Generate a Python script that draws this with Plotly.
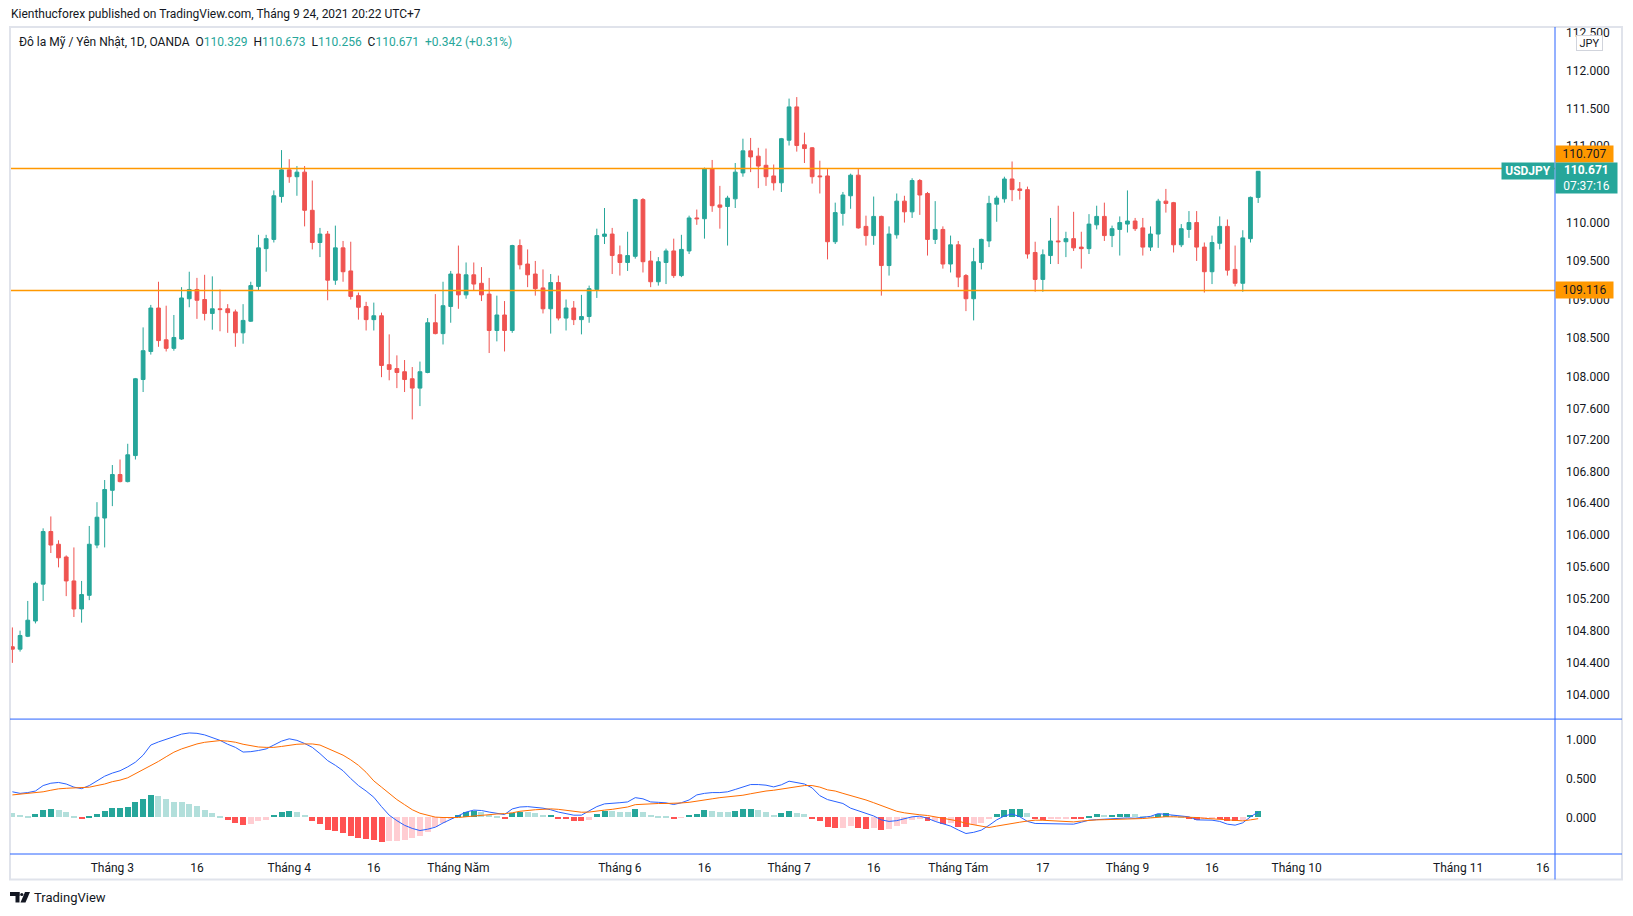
import math
import pandas as pd
import plotly.graph_objects as go

# ---------------- data ----------------
dates = pd.bdate_range("2021-02-10", "2021-09-24")  # trading days (163)

opens = [104.60,104.57,104.73,104.92,105.38,106.04,105.88,105.72,105.42,105.07,
105.24,105.87,106.21,106.56,106.76,106.67,107.00,107.97,108.33,108.89,
108.48,108.37,108.49,109.01,109.13,109.00,108.82,108.88,108.88,108.84,
108.57,108.72,109.17,109.66,109.78,110.34,110.69,110.60,110.66,110.16,
109.74,109.85,109.25,109.67,109.37,109.05,108.91,108.74,108.79,108.16,
108.11,108.07,107.98,107.86,108.06,108.70,108.56,108.91,109.33,109.06,
109.32,109.21,109.07,108.60,108.80,108.60,109.70,109.46,109.33,109.15,
108.88,109.22,108.76,108.89,108.74,108.78,109.13,109.82,109.85,109.58,
109.48,109.56,110.30,109.50,109.23,109.48,109.63,109.31,109.63,110.06,
110.05,110.70,110.23,110.21,110.31,110.65,110.94,110.87,110.75,110.61,
110.52,111.08,111.52,111.02,110.98,110.61,110.61,109.75,110.12,110.35,
110.62,109.95,109.83,110.08,109.44,109.84,110.28,110.14,110.55,110.38,
109.78,109.91,109.46,109.71,109.31,109.01,109.48,109.76,110.24,110.31,
110.57,110.44,110.43,109.61,109.26,109.57,109.76,109.75,109.79,109.68,
109.66,109.97,110.08,109.83,109.91,109.98,110.02,109.93,109.68,109.85,
110.28,110.26,109.71,109.91,110.00,109.68,109.36,109.73,109.95,109.39,
109.21,109.79,110.329]

highs = [104.84,104.80,105.17,105.41,106.08,106.23,105.93,105.74,105.84,105.42,
106.11,106.41,106.69,106.88,106.95,107.15,107.99,108.64,108.93,109.23,
108.92,108.80,109.16,109.36,109.28,109.32,109.30,109.13,108.94,108.87,
108.94,109.23,109.84,109.84,110.42,110.95,110.83,110.74,110.74,110.55,
109.93,109.89,109.96,109.76,109.75,109.09,108.97,108.96,108.83,108.55,
108.28,108.22,108.13,108.20,108.76,109.07,109.23,109.37,109.70,109.48,
109.48,109.42,109.28,109.05,108.98,109.71,109.78,109.65,109.50,109.39,
109.33,109.31,109.00,108.98,109.06,109.18,109.92,110.19,109.93,109.70,
109.88,110.31,110.32,109.63,109.55,109.66,109.79,109.84,110.09,110.17,
110.72,110.82,110.48,110.35,110.78,111.10,111.11,110.98,110.97,110.76,
111.11,111.63,111.65,111.18,110.99,110.81,110.70,110.26,110.40,110.64,
110.70,110.09,110.34,110.09,109.95,110.38,110.35,110.58,110.57,110.40,
110.28,109.95,109.83,109.76,109.33,109.67,109.79,110.35,110.35,110.60,
110.80,110.53,110.47,109.75,109.65,110.06,110.22,109.88,110.14,109.88,
110.11,110.22,110.26,109.96,110.08,110.42,110.06,110.06,109.95,110.31,
110.44,110.27,109.98,110.15,110.15,109.74,109.83,110.08,110.04,109.70,
109.90,110.34,110.673]

lows = [104.40,104.54,104.72,104.89,105.17,105.77,105.59,105.23,104.97,104.90,
105.18,105.83,105.84,106.36,106.66,106.66,106.95,107.81,108.29,108.39,
108.33,108.34,108.48,108.90,108.75,108.73,108.61,108.59,108.57,108.39,
108.43,108.71,109.11,109.36,109.74,110.26,110.52,110.35,109.95,109.65,
109.55,108.99,109.19,109.23,109.00,108.74,108.60,108.60,108.00,107.96,
107.86,107.81,107.46,107.63,108.05,108.55,108.42,108.70,108.88,109.01,
109.12,108.98,108.31,108.46,108.33,108.57,109.39,109.16,109.05,108.82,
108.56,108.73,108.60,108.67,108.55,108.70,109.02,109.72,109.33,109.31,
109.37,109.53,109.35,109.16,109.18,109.20,109.28,109.29,109.59,109.97,
109.79,110.14,109.92,109.70,110.19,110.60,110.66,110.45,110.48,110.42,
110.40,111.01,110.93,110.78,110.51,110.38,109.52,109.72,109.96,110.18,
109.92,109.70,109.71,109.05,109.31,109.79,110.00,110.06,110.10,109.57,
109.72,109.40,109.35,109.16,108.85,108.73,109.39,109.68,110.01,110.26,
110.28,110.30,109.53,109.10,109.10,109.46,109.46,109.55,109.63,109.40,
109.59,109.91,109.76,109.68,109.57,109.87,109.89,109.57,109.63,109.67,
110.13,109.61,109.68,109.80,109.50,109.09,109.20,109.65,109.31,109.17,
109.10,109.74,110.256]

closes = [104.57,104.74,104.93,105.39,106.04,105.87,105.71,105.42,105.07,105.25,
105.88,106.22,106.57,106.76,106.67,107.01,107.98,108.34,108.89,108.47,
108.37,108.51,109.02,109.13,108.99,108.82,108.88,108.87,108.83,108.57,
108.73,109.18,109.67,109.79,110.35,110.69,110.60,110.66,110.16,109.74,
109.85,109.25,109.67,109.36,109.04,108.90,108.74,108.79,108.15,108.10,
108.06,107.97,107.86,108.07,108.70,108.56,108.92,109.33,109.06,109.32,
109.20,109.06,108.60,108.80,108.60,109.70,109.45,109.32,109.14,108.88,
109.22,108.76,108.89,108.74,108.78,109.14,109.83,109.85,109.57,109.48,
109.57,110.30,109.49,109.23,109.49,109.63,109.31,109.65,110.06,110.05,
110.70,110.22,110.20,110.32,110.66,110.94,110.86,110.74,110.60,110.52,
111.10,111.52,111.01,110.97,110.60,110.60,109.75,110.13,110.36,110.62,
109.93,109.83,110.08,109.44,109.85,110.28,110.14,110.55,110.36,109.78,
109.91,109.46,109.71,109.29,109.01,109.49,109.78,110.25,110.32,110.57,
110.43,110.42,109.59,109.26,109.58,109.76,109.75,109.79,109.67,109.66,
109.98,110.08,109.83,109.92,110.00,110.02,109.92,109.68,109.85,110.28,
110.25,109.71,109.92,110.00,109.68,109.36,109.74,109.95,109.38,109.21,
109.80,110.329,110.671]

macd_line = [0.33,0.31,0.32,0.34,0.41,0.44,0.45,0.43,0.39,0.37,
0.41,0.47,0.53,0.57,0.60,0.65,0.71,0.80,0.93,0.97,
1.00,1.04,1.07,1.085,1.08,1.06,1.03,0.99,0.94,0.90,
0.84,0.845,0.86,0.88,0.93,0.98,1.01,0.99,0.95,0.90,
0.82,0.73,0.67,0.60,0.50,0.41,0.34,0.26,0.14,0.03,
-0.04,-0.10,-0.14,-0.167,-0.15,-0.124,-0.07,-0.02,0.026,0.07,
0.095,0.09,0.07,0.05,0.038,0.11,0.135,0.14,0.13,0.12,
0.10,0.07,0.05,0.03,0.03,0.08,0.14,0.175,0.18,0.19,
0.20,0.255,0.24,0.20,0.195,0.188,0.167,0.19,0.225,0.29,
0.31,0.32,0.32,0.33,0.36,0.393,0.423,0.423,0.415,0.393,
0.42,0.466,0.452,0.43,0.38,0.28,0.23,0.20,0.18,0.12,
0.09,0.05,0.02,-0.03,-0.05,-0.04,-0.02,0.009,0.017,-0.01,
-0.05,-0.077,-0.11,-0.16,-0.205,-0.19,-0.162,-0.10,-0.03,0.02,
0.045,0.01,-0.05,-0.076,-0.078,-0.078,-0.078,-0.08,-0.085,-0.06,
-0.034,-0.027,-0.02,-0.01,-0.004,-0.005,-0.009,0.0,0.015,0.05,
0.04,0.021,0.015,0.009,-0.03,-0.034,-0.034,-0.05,-0.085,-0.098,
-0.068,0.009,0.07]

signal_line = [0.29,0.30,0.305,0.312,0.33,0.35,0.368,0.375,0.38,0.385,
0.389,0.41,0.43,0.46,0.48,0.51,0.56,0.61,0.67,0.72,
0.78,0.838,0.88,0.915,0.944,0.965,0.98,0.987,0.98,0.966,
0.94,0.92,0.905,0.90,0.90,0.912,0.93,0.94,0.944,0.944,
0.93,0.89,0.84,0.80,0.74,0.67,0.58,0.47,0.39,0.31,
0.23,0.165,0.10,0.055,0.025,0.005,0.0,-0.004,0.0,0.01,
0.02,0.03,0.038,0.045,0.05,0.06,0.08,0.093,0.10,0.105,
0.111,0.105,0.095,0.08,0.068,0.07,0.085,0.095,0.105,0.12,
0.135,0.165,0.172,0.178,0.18,0.18,0.18,0.187,0.195,0.207,
0.22,0.24,0.255,0.265,0.277,0.286,0.305,0.325,0.34,0.35,
0.365,0.385,0.398,0.41,0.41,0.39,0.355,0.34,0.31,0.285,
0.26,0.225,0.19,0.15,0.11,0.08,0.06,0.043,0.035,0.026,
0.01,-0.005,-0.02,-0.045,-0.075,-0.09,-0.111,-0.128,-0.11,-0.09,
-0.078,-0.06,-0.045,-0.034,-0.035,-0.04,-0.043,-0.05,-0.056,-0.045,
-0.035,-0.03,-0.028,-0.026,-0.022,-0.017,-0.015,-0.013,-0.005,0.005,
0.01,0.009,0.009,0.005,0.0,-0.01,-0.017,-0.025,-0.032,-0.038,
-0.043,-0.03,-0.015]

histogram = [0.056,0.030,0.017,0.043,0.094,0.107,0.094,0.068,0.017,-0.021,
0.017,0.038,0.081,0.115,0.121,0.132,0.197,0.235,0.286,0.274,
0.235,0.197,0.196,0.171,0.150,0.094,0.056,0.017,-0.030,-0.068,
-0.098,-0.081,-0.043,-0.030,0.030,0.068,0.081,0.068,0.030,-0.043,
-0.085,-0.162,-0.175,-0.205,-0.239,-0.265,-0.273,-0.285,-0.310,-0.305,
-0.300,-0.290,-0.270,-0.240,-0.184,-0.128,-0.070,-0.020,0.030,0.068,
0.085,0.068,0.030,0.017,-0.009,0.056,0.073,0.064,0.051,0.026,
0.030,-0.017,-0.020,-0.043,-0.045,-0.030,0.038,0.081,0.081,0.068,
0.068,0.107,0.068,0.030,0.017,0.015,-0.021,-0.004,0.030,0.043,
0.094,0.081,0.075,0.068,0.081,0.105,0.107,0.094,0.068,0.030,
0.056,0.081,0.056,0.043,-0.013,-0.047,-0.124,-0.137,-0.135,-0.111,
-0.137,-0.150,-0.137,-0.162,-0.150,-0.111,-0.085,-0.034,-0.017,-0.047,
-0.043,-0.085,-0.068,-0.120,-0.125,-0.103,-0.077,-0.009,0.043,0.094,
0.107,0.110,0.056,-0.026,-0.034,-0.021,-0.020,-0.019,-0.022,-0.025,
0.017,0.043,0.030,0.032,0.043,0.045,0.043,0.017,0.015,0.043,
0.056,0.030,0.017,-0.013,-0.034,-0.021,-0.020,-0.022,-0.051,-0.052,
-0.034,0.030,0.081]

price_ticks = [112.5, 112.0, 111.5, 111.0, 110.0, 109.5, 109.0, 108.5, 108.0,
               107.6, 107.2, 106.8, 106.4, 106.0, 105.6, 105.2, 104.8, 104.4, 104.0]
macd_ticks = [1.0, 0.5, 0.0]
time_tick_dates = ["2021-03-01", "2021-03-16", "2021-04-01", "2021-04-16", "2021-05-03",
                   "2021-06-01", "2021-06-16", "2021-07-01", "2021-07-16", "2021-08-02",
                   "2021-08-17", "2021-09-01", "2021-09-16", "2021-10-01", "2021-11-01",
                   "2021-11-16"]
time_tick_labels = ["Tháng 3", "16", "Tháng 4", "16", "Tháng Năm", "Tháng 6", "16",
                    "Tháng 7", "16", "Tháng Tám", "17", "Tháng 9", "16", "Tháng 10",
                    "Tháng 11", "16"]
resistance = 110.707
support = 109.116
symbol = "USDJPY"
countdown = "07:37:16"

# ---------------- helpers ----------------
n = len(closes)
xs = list(range(n))
calendar = pd.bdate_range("2021-02-10", "2021-12-31")
cal_pos = {d: i for i, d in enumerate(calendar)}
tickvals = [cal_pos[pd.Timestamp(d)] for d in time_tick_dates]

GREEN = "#26A69A"
RED = "#EF5350"
TXT = "#131722"
BLUE = "#2962FF"
FONT = "Roboto"

hist_colors = []
for i, h in enumerate(histogram):
    p = histogram[i - 1] if i > 0 else h
    if h >= 0:
        hist_colors.append("#26A69A" if h > p else "#B2DFDB")
    else:
        hist_colors.append("#FF5252" if h < p else "#FFCDD2")

W, H = 1633, 916
PL, PR, PT, PB = 10, 1555, 28, 854.5


def fx(x):
    return (x - PL) / (PR - PL)


def fy(y):
    return (PB - y) / (PB - PT)


sep = fy(719.5)

fig = go.Figure()
fig.add_trace(go.Candlestick(
    x=xs, open=opens, high=highs, low=lows, close=closes,
    increasing=dict(line=dict(color=GREEN, width=1), fillcolor=GREEN),
    decreasing=dict(line=dict(color=RED, width=1), fillcolor=RED),
    whiskerwidth=0, xaxis="x", yaxis="y", showlegend=False, hoverinfo="skip"))

fig.add_trace(go.Bar(x=xs, y=histogram, marker=dict(color=hist_colors, line=dict(width=0)),
                     width=0.78, xaxis="x2", yaxis="y2", showlegend=False, hoverinfo="skip"))
fig.add_trace(go.Scatter(x=xs, y=macd_line, mode="lines", line=dict(color=BLUE, width=1),
                         xaxis="x2", yaxis="y2", showlegend=False, hoverinfo="skip"))
fig.add_trace(go.Scatter(x=xs, y=signal_line, mode="lines", line=dict(color="#FF6D00", width=1),
                         xaxis="x2", yaxis="y2", showlegend=False, hoverinfo="skip"))

xrange = [-0.31, 200.6]
ylog = [math.log10(103.706), math.log10(112.569)]

fig.update_layout(
    width=W, height=H, paper_bgcolor="white", plot_bgcolor="white",
    margin=dict(l=PL, r=W - PR, t=PT, b=H - PB, autoexpand=False),
    font=dict(family=FONT, size=12, color=TXT),
    bargap=0,
    xaxis=dict(domain=[0, 1], anchor="y", range=xrange, showticklabels=False, showgrid=False,
               zeroline=False, showline=False, rangeslider=dict(visible=False), ticks=""),
    yaxis=dict(domain=[sep, 1], anchor="x", type="log", range=ylog, side="right",
               tickvals=price_ticks, ticktext=[f"{v:.3f}" for v in price_ticks],
               showgrid=False, zeroline=False, showline=False, ticks="",
               ticklabelstandoff=10, tickfont=dict(family=FONT, size=12, color=TXT)),
    xaxis2=dict(domain=[0, 1], anchor="y2", range=xrange, tickvals=tickvals,
                ticktext=time_tick_labels, showgrid=False, zeroline=False, showline=False,
                ticks="", ticklabelstandoff=5, tickfont=dict(family=FONT, size=12, color=TXT)),
    yaxis2=dict(domain=[0, sep], anchor="x2", range=[-0.468, 1.263], side="right",
                tickvals=macd_ticks, ticktext=[f"{v:.3f}" for v in macd_ticks],
                showgrid=False, zeroline=False, showline=False, ticks="",
                ticklabelstandoff=10, tickfont=dict(family=FONT, size=12, color=TXT)),
)

shapes = []
# horizontal support / resistance lines
for lvl in (resistance, support):
    shapes.append(dict(type="line", xref="paper", yref="y", x0=0, x1=1, y0=lvl, y1=lvl,
                       line=dict(color="#FF9800", width=1.5), layer="above"))
# mask above plot top in axis area
shapes.append(dict(type="rect", xref="paper", yref="paper", x0=fx(1556), x1=fx(1625),
                   y0=fy(28), y1=fy(0), fillcolor="white", line=dict(width=0), layer="above"))
# outer frame
shapes.append(dict(type="rect", xref="paper", yref="paper", x0=fx(10), x1=fx(1622),
                   y0=fy(880), y1=fy(27), line=dict(color="#E0E3EB", width=2),
                   fillcolor="rgba(0,0,0,0)", layer="above"))
# pane separators (blue)
shapes.append(dict(type="line", xref="paper", yref="paper", x0=0, x1=fx(1622), y0=sep, y1=sep,
                   line=dict(color=BLUE, width=1), layer="above"))
shapes.append(dict(type="line", xref="paper", yref="paper", x0=0, x1=fx(1622), y0=0, y1=0,
                   line=dict(color=BLUE, width=1), layer="above"))
shapes.append(dict(type="line", xref="paper", yref="paper", x0=1, x1=1, y0=fy(880), y1=fy(27),
                   line=dict(color=BLUE, width=1), layer="above"))
# TradingView logo
shapes.append(dict(type="rect", xref="paper", yref="paper", x0=fx(10), x1=fx(19.5),
                   y0=fy(896.5), y1=fy(892.5), fillcolor=TXT, line=dict(width=0)))
shapes.append(dict(type="rect", xref="paper", yref="paper", x0=fx(15.5), x1=fx(19.5),
                   y0=fy(903), y1=fy(892.5), fillcolor=TXT, line=dict(width=0)))
shapes.append(dict(type="circle", xref="paper", yref="paper", x0=fx(20.2), x1=fx(23.4),
                   y0=fy(896.6), y1=fy(893.4), fillcolor=TXT, line=dict(width=0)))
shapes.append(dict(type="path", xref="paper", yref="paper",
                   path=f"M {fx(25)} {fy(892.5)} L {fx(30)} {fy(892.5)} L {fx(25.5)} {fy(903)} "
                        f"L {fx(20.5)} {fy(903)} Z",
                   fillcolor=TXT, line=dict(width=0)))
fig.update_layout(shapes=shapes)

chg = closes[-1] - closes[-2]
pct = chg / closes[-2] * 100
teal = lambda s: f"<span style='color:{GREEN}'>{s}</span>"
sp = "\u00a0\u00a0"
legend_text = ("Đô la Mỹ / Yên Nhật, 1D, OANDA" + sp +
               "O" + teal(f"{opens[-1]:.3f}") + sp +
               "H" + teal(f"{highs[-1]:.3f}") + sp +
               "L" + teal(f"{lows[-1]:.3f}") + sp +
               "C" + teal(f"{closes[-1]:.3f}") + sp +
               teal(f"{chg:+.3f} ({pct:+.2f}%)"))

ann = [
    dict(text="Kienthucforex published on TradingView.com, Tháng 9 24, 2021 20:22 UTC+7",
         x=fx(9.4), y=fy(13.5), xref="paper", yref="paper", xanchor="left", yanchor="middle",
         showarrow=False, font=dict(family=FONT, size=12, color=TXT)),
    dict(text=legend_text, x=fx(17), y=fy(41.6), xref="paper", yref="paper",
         xanchor="left", yanchor="middle", showarrow=False,
         font=dict(family=FONT, size=12, color=TXT)),
    dict(text="JPY", x=fx(1589), y=fy(42.9), xref="paper", yref="paper", xanchor="center",
         yanchor="middle", showarrow=False, width=25, height=14, bgcolor="white",
         bordercolor="#D1D4DC", borderwidth=1, borderpad=0,
         font=dict(family=FONT, size=11, color=TXT)),
    dict(text=f"{resistance:.3f}", x=fx(1584.7), y=fy(153.9), xref="paper", yref="paper",
         xanchor="center", yanchor="middle", showarrow=False, width=57, height=16,
         bgcolor="#FF9800", borderpad=0, font=dict(family=FONT, size=12, color=TXT)),
    dict(text=f"{support:.3f}", x=fx(1584.7), y=fy(290.3), xref="paper", yref="paper",
         xanchor="center", yanchor="middle", showarrow=False, width=57, height=16,
         bgcolor="#FF9800", borderpad=0, font=dict(family=FONT, size=12, color=TXT)),
    dict(text=f"<b>{closes[-1]:.3f}</b><br>{countdown}", x=fx(1586.7), y=fy(178.3),
         xref="paper", yref="paper", xanchor="center", yanchor="middle", showarrow=False,
         width=61, height=30, bgcolor=GREEN, borderpad=0,
         font=dict(family=FONT, size=12, color="white")),
    dict(text=f"<b>{symbol}</b>", x=fx(1527.8), y=fy(171.3), xref="paper", yref="paper",
         xanchor="center", yanchor="middle", showarrow=False, width=52, height=16,
         bgcolor=GREEN, borderpad=0, font=dict(family=FONT, size=12, color="white")),
    dict(text="TradingView", x=fx(32), y=fy(898), xref="paper", yref="paper",
         xanchor="left", yanchor="middle", showarrow=False,
         font=dict(family=FONT, size=13, color=TXT)),
]
fig.update_layout(annotations=ann)

fig.write_html("out.html")
